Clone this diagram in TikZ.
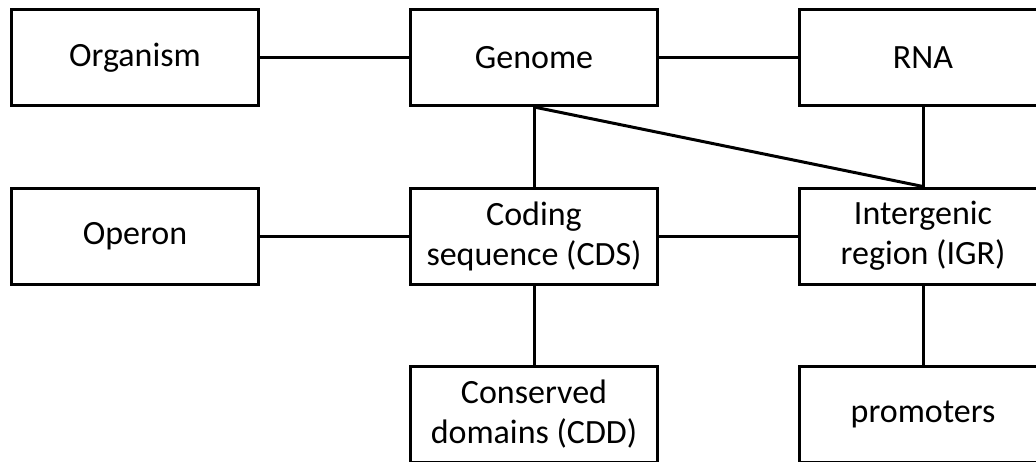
\documentclass[tikz,border=0pt]{standalone}
\usepackage{fontspec}
\setmainfont{Carlito}
\begin{document}
\begin{tikzpicture}[x=1pt,y=-1pt,
  box/.style={draw=black,line width=3pt,fill=white,minimum width=247pt,minimum height=96pt,inner sep=0pt,align=center,font=\fontsize{34}{40}\selectfont},
  conn/.style={line width=3pt}]
\useasboundingbox (0,0) rectangle (1036,461);
\clip (0,0) rectangle (1036,461);
\fill[white] (0,0) rectangle (1036,461);
\node[box] (org) at (135,57.5) {Organism};
\node[box] (gen) at (534,57.5) {Genome};
\node[box] (rna) at (923,57.5) {RNA};
\node[box] (ope) at (135,236) {Operon};
\node[box] (cds) at (534,236) {Coding\\sequence (CDS)};
\node[box] (igr) at (923,236) {Intergenic\\region (IGR)};
\node[box] (cdd) at (534,414.5) {Conserved\\domains (CDD)};
\node[box] (pro) at (923,414.5) {promoters};
\coordinate (gb) at (gen.south);
\coordinate (it) at (igr.north);
\draw[conn] (org) -- (gen);
\draw[conn] (gen) -- (rna);
\draw[conn] (gen) -- (cds);
\draw[conn] (gen.south) -- (igr.north);
\draw[conn] (rna) -- (igr);
\draw[conn] (ope) -- (cds);
\draw[conn] (cds) -- (igr);
\draw[conn] (cds) -- (cdd);
\draw[conn] (igr) -- (pro);
\end{tikzpicture}
\end{document}
